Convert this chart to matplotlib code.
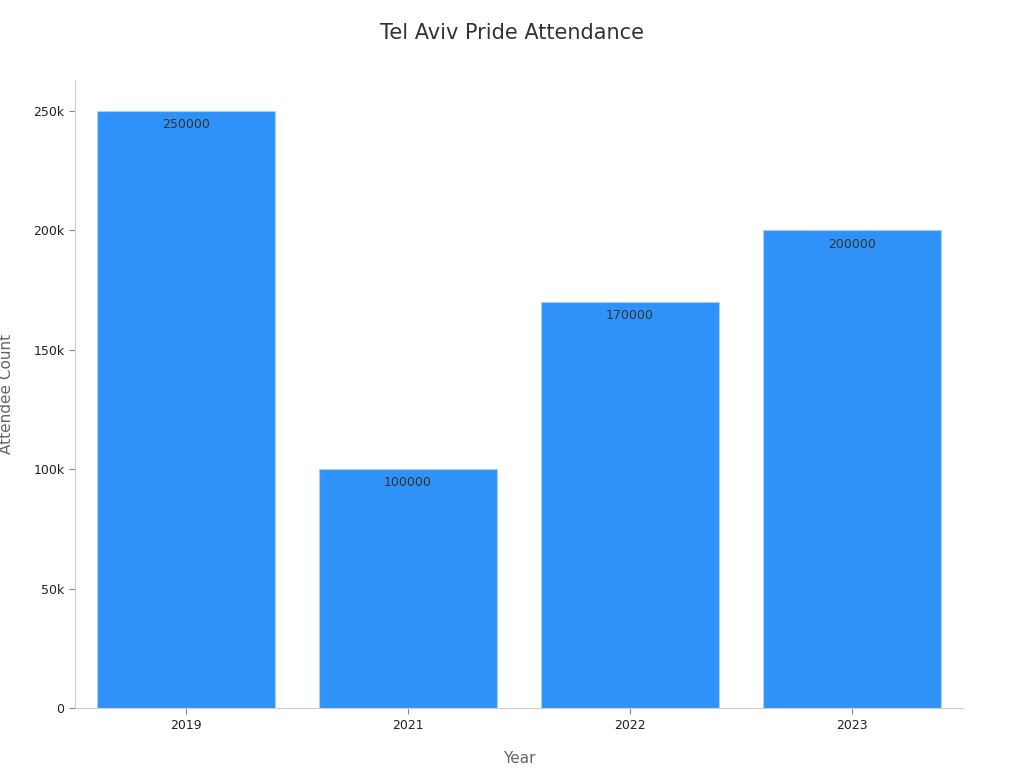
import matplotlib
matplotlib.use("Agg")
import matplotlib.pyplot as plt
from matplotlib.ticker import FuncFormatter

years = ["2019", "2021", "2022", "2023"]
attendance = [250000, 100000, 170000, 200000]

fig = plt.figure(figsize=(10.24, 7.68), dpi=100)
ax = fig.add_axes([0.0732, 0.078, 0.8672, 0.818])
x = list(range(len(years)))
bars = ax.bar(x, attendance, width=0.8, color="#2F92F9", edgecolor="#A9CDF5", linewidth=0.8)
for xi, v in zip(x, attendance):
    ax.text(xi, v - 3000, str(v), ha="center", va="top", fontsize=9, color="#333333")
ax.set_xticks(x)
ax.set_xticklabels(years)
ax.set_xlim(-0.5, 3.5)
ax.set_ylim(0, 263000)
ax.set_yticks([0, 50000, 100000, 150000, 200000, 250000])
ax.yaxis.set_major_formatter(FuncFormatter(lambda v, p: "0" if v == 0 else f"{int(v/1000)}k"))
ax.tick_params(labelsize=9, colors="#222222", length=4)
ax.tick_params(axis="both", color="#888888")
for s in ["top", "right"]:
    ax.spines[s].set_visible(False)
for s in ["left", "bottom"]:
    ax.spines[s].set_color("#CCCCCC")
ax.set_xlabel("Year", fontsize=11, color="#666666", labelpad=14)
ax.set_ylabel("Attendee Count", fontsize=11, color="#666666", labelpad=14)
fig.suptitle("Tel Aviv Pride Attendance", fontsize=15, color="#333333", y=0.97)
fig.savefig("out.png", dpi=100)
